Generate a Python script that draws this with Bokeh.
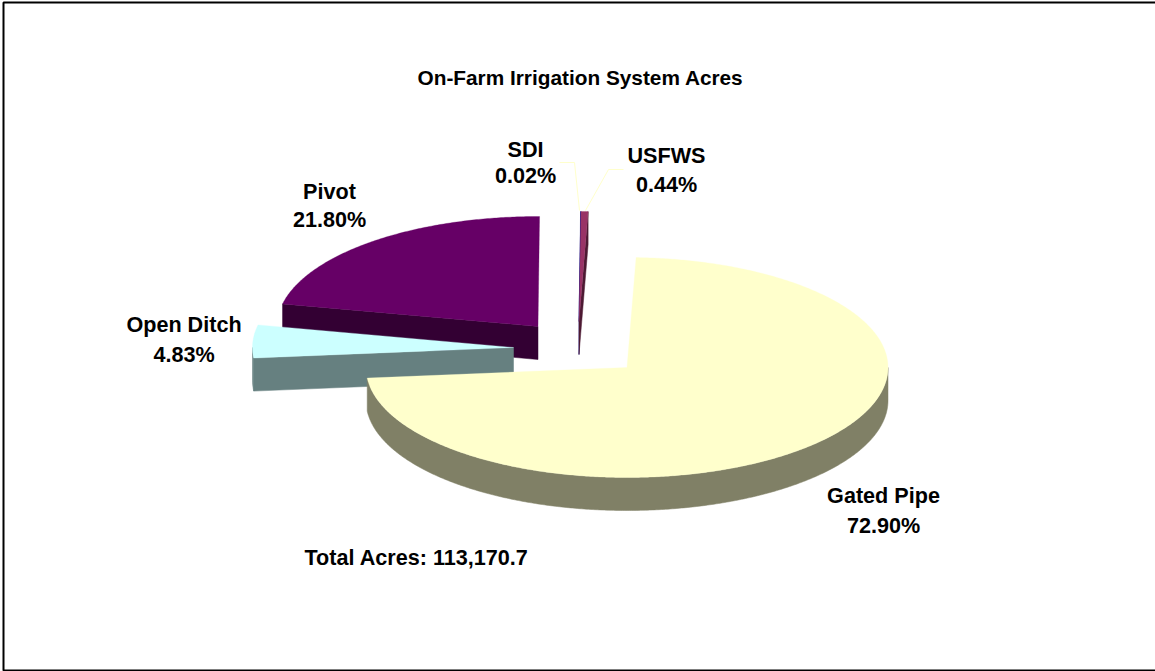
import numpy as np
from bokeh.plotting import figure
from bokeh.models import Range1d
from bokeh.core.properties import value
from bokeh.embed import file_html
from bokeh.resources import INLINE

# --- data ---
categories = ["Gated Pipe", "Open Ditch", "Pivot", "SDI", "USFWS"]
percent = [72.90, 4.83, 21.80, 0.02, 0.44]
title_text = "On-Farm Irrigation System Acres"
total_text = "Total Acres: 113,170.7"

# --- style / layout ---
W, H = 1155, 671
top_colors = {"Gated Pipe": "#FFFFCC", "Open Ditch": "#CCFFFF", "Pivot": "#660066", "SDI": "#000080", "USFWS": "#993366"}
side_colors = {"Gated Pipe": "#808066", "Open Ditch": "#668080", "Pivot": "#330033", "SDI": "#000080", "USFWS": "#4D1A33"}
apex = {"Gated Pipe": (626.5, 367), "Open Ditch": (513, 347), "Pivot": (537.5, 326), "SDI": (578.5, 321), "USFWS": (578.5, 321)}
label_pos = {"Gated Pipe": (883, 495, 525), "Open Ditch": (183.5, 324, 354), "Pivot": (329, 191, 219),
             "SDI": (525, 149, 175), "USFWS": (666, 155, 184)}
RX, RY, DEPTH = 261.0, 110.0, 33.0
START_DEG = 2.0
draw_order = ["Pivot", "SDI", "USFWS", "Open Ditch", "Gated Pipe"]

p = figure(width=W, height=H, x_range=Range1d(0, W), y_range=Range1d(H, 0),
           output_backend="svg", toolbar_location=None, min_border=0,
           background_fill_color="white", border_fill_color="white", outline_line_color=None)
p.axis.visible = False
p.grid.visible = False
p.styles = {"position": "absolute", "left": "0px", "top": "0px"}

# slice angles from the values
tot = sum(percent)
angles = {}
a = START_DEG
for c, v in zip(categories, percent):
    angles[c] = (a, a + v / tot * 360.0)
    a += v / tot * 360.0


def rim(cx, cy, t0, t1, n=None):
    n = n or max(2, int(abs(t1 - t0) * 2) + 2)
    t = np.radians(np.linspace(t0, t1, n))
    return cx + RX * np.sin(t), cy - RY * np.cos(t)


for c in draw_order:
    cx, cy = apex[c]
    t0, t1 = angles[c]
    top, side = top_colors[c], side_colors[c]
    # outer wall (front half only)
    for lo, hi in [(90, 270), (450, 630)]:
        l, h = max(t0, lo), min(t1, hi)
        if h > l:
            x, y = rim(cx, cy, l, h)
            p.patch(np.r_[x, x[::-1]], np.r_[y, y[::-1] + DEPTH], fill_color=side, line_color=side, line_width=0.5)
    # cut faces that look toward the viewer
    faces = []
    if c in ("Open Ditch", "Pivot"):
        faces.append(t0)
    if c in ("USFWS", "SDI"):
        faces.append(t1)
    for t in faces:
        x, y = rim(cx, cy, t, t, 2)
        px = [cx, x[0], x[0], cx]
        py = [cy, y[0], y[0] + DEPTH, cy + DEPTH]
        p.patch(px, py, fill_color=side, line_color=side, line_width=0.5)
    # top face
    x, y = rim(cx, cy, t0, t1)
    p.patch(np.r_[cx, x], np.r_[cy, y], fill_color=top, line_color=top, line_width=0.3)

# leader lines
p.line([559, 574, 579], [162, 162, 210], line_color="#FFFFCC", line_width=1)
p.line([623, 608, 585], [169, 169, 210], line_color="#FFFFCC", line_width=1)

# border (left, top, bottom)
p.line([W, 3, 3, W], [2, 2, 670, 670], line_color="black", line_width=2)

# text
font = value("Liberation Sans")
for c, v in zip(categories, percent):
    lx, y1, y2 = label_pos[c]
    p.text([lx, lx], [y1, y2], text=[c, f"{v:.2f}%"], text_font=font, text_font_style="bold",
           text_font_size="21.6px", text_color="black", text_align="center", text_baseline="middle")
p.text([580], [77], text=[title_text], text_font=font, text_font_style="bold", text_font_size="20.8px",
       text_color="black", text_align="center", text_baseline="middle")
p.text([304], [557], text=[total_text], text_font=font, text_font_style="bold", text_font_size="21.6px",
       text_color="black", text_align="left", text_baseline="middle")

open("out.html", "w").write(file_html(p, INLINE))
